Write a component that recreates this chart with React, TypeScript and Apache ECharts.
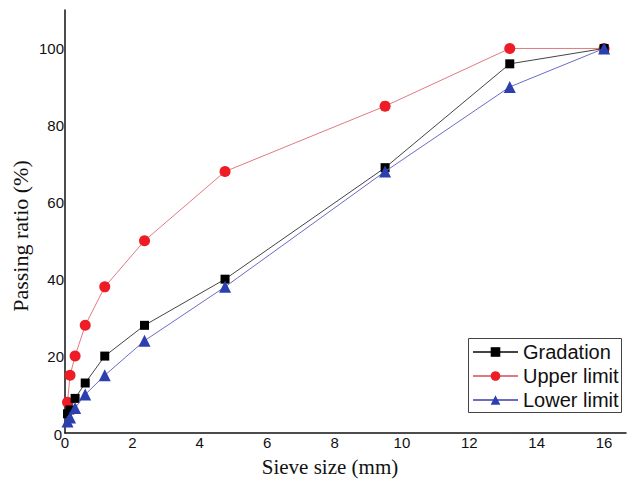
import React, { useEffect, useRef } from "react";
import * as echarts from "echarts";

const sieveSizes = [0.075, 0.15, 0.3, 0.6, 1.18, 2.36, 4.75, 9.5, 13.2, 16];
const gradation = [5, 6, 9, 13, 20, 28, 40, 69, 96, 100];
const upperLimit = [8, 15, 20, 28, 38, 50, 68, 85, 100, 100];
const lowerLimit = [3, 4, 6.5, 10, 15, 24, 38, 68, 90, 100];
const seriesNames = ["Gradation", "Upper limit", "Lower limit"];

const pairs = (ys: number[]) => sieveSizes.map((x, i) => [x, ys[i]]);

export default function App() {
  const ref = useRef<HTMLDivElement>(null);
  useEffect(() => {
    const chart = echarts.init(ref.current!, null, { renderer: "svg" });
    chart.setOption({
      animation: false,
      backgroundColor: "#fff",
      grid: { left: 65, right: 0, top: 10, bottom: 51 },
      xAxis: {
        type: "value",
        min: 0,
        max: 16.65,
        interval: 2,
        axisLine: { show: true, lineStyle: { color: "#111", width: 1.5 } },
        axisTick: { show: false },
        splitLine: { show: false },
        axisLabel: {
          color: "#111",
          fontFamily: "Arial, Liberation Sans",
          fontSize: 15,
          margin: 2,
          formatter: (v: number) => (v <= 16 && Number.isInteger(v) ? String(v) : ""),
        },
      },
      yAxis: {
        type: "value",
        min: 0,
        max: 110,
        interval: 20,
        axisLine: { show: true, lineStyle: { color: "#111", width: 1.5 } },
        axisTick: { show: false },
        splitLine: { show: false },
        axisLabel: {
          color: "#111",
          fontFamily: "Arial, Liberation Sans",
          fontSize: 15,
          margin: 1,
          formatter: (v: number) => (v > 0 && v <= 100 ? String(v) : ""),
        },
      },
      legend: {
        orient: "vertical",
        left: 468,
        top: 338,
        padding: [4, 4, 3, 4],
        itemGap: 4,
        itemWidth: 45,
        itemHeight: 12,
        borderWidth: 0,
        textStyle: { color: "#111", fontFamily: "Arial, Liberation Sans", fontSize: 20 },
        data: seriesNames,
      },
      graphic: [
        {
          type: "rect",
          shape: { x: 468.5, y: 338.5, width: 153, height: 74 },
          style: { fill: "none", stroke: "#444", lineWidth: 1 },
          z: 10,
        },
        {
          type: "text",
          x: 58,
          y: 434,
          style: {
            text: "0",
            font: '15px Arial, "Liberation Sans", sans-serif',
            fill: "#111",
            align: "center",
            verticalAlign: "middle",
          },
        },
        {
          type: "text",
          x: 330,
          y: 467,
          style: {
            text: "Sieve size (mm)",
            font: '21px "Liberation Serif", "Times New Roman", serif',
            fill: "#111",
            align: "center",
            verticalAlign: "middle",
          },
        },
        {
          type: "text",
          x: 20,
          y: 236,
          rotation: Math.PI / 2,
          style: {
            text: "Passing ratio (%)",
            font: '22px "Liberation Serif", "Times New Roman", serif',
            fill: "#111",
            align: "center",
            verticalAlign: "middle",
          },
        },
      ],
      series: [
        {
          name: seriesNames[0],
          type: "line",
          data: pairs(gradation),
          symbol: "rect",
          symbolSize: 9,
          itemStyle: { color: "#000" },
          lineStyle: { color: "#444", width: 1 },
          z: 3,
        },
        {
          name: seriesNames[1],
          type: "line",
          data: pairs(upperLimit),
          symbol: "circle",
          symbolSize: 11,
          itemStyle: { color: "#ee1c25" },
          lineStyle: { color: "#e07a82", width: 1 },
          z: 2,
        },
        {
          name: seriesNames[2],
          type: "line",
          data: pairs(lowerLimit),
          symbol: "triangle",
          symbolSize: 12,
          itemStyle: { color: "#2b3fae" },
          lineStyle: { color: "#6b6bc8", width: 1 },
          z: 4,
        },
      ],
    });
    return () => chart.dispose();
  }, []);
  return <div ref={ref} style={{ width: 629, height: 484, position: "absolute", left: 0, top: 0 }} />;
}
